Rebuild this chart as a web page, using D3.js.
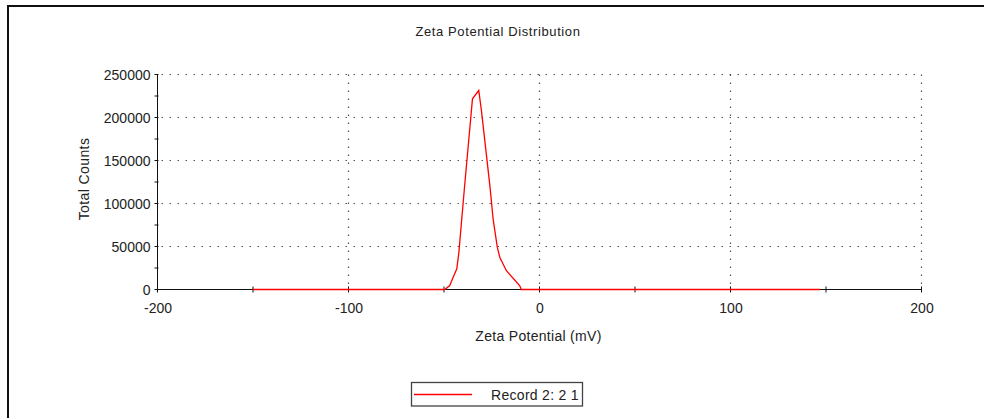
<!DOCTYPE html>
<html>
<head>
<meta charset="utf-8">
<script src="https://cdn.jsdelivr.net/npm/d3@7"></script>
<style>
  html, body { margin: 0; padding: 0; background: #fff; }
  svg { display: block; }
  text { font-family: "Liberation Sans", Arial, sans-serif; fill: #222; }
</style>
</head>
<body>
<svg id="chart" width="984" height="418"></svg>
<script>
// Zeta potential distribution record
const zeta = [-150, -49.6, -47, -45.2, -43.3, -42.2, -39.3, -35.1, -31.8, -30.4, -26, -24.3, -22.1, -20.8, -17.4, -10.4, -9.5, 147];
const counts = [0, 0, 4600, 14300, 24000, 43400, 118000, 221700, 231400, 208000, 121000, 82200, 49200, 37600, 22100, 4650, 0, 0];

const xTicks = [-200, -100, 0, 100, 200];
const xMinorTicks = [-150, -50, 50, 150];
const yTicks = [0, 50000, 100000, 150000, 200000, 250000];
const yMinorTicks = [25000, 75000, 125000, 175000, 225000];

const titleText = "Zeta Potential Distribution";
const xLabel = "Zeta Potential (mV)";
const yLabel = "Total Counts";
const seriesName = "Record 2: 2 1";

const svg = d3.select("#chart");

const x = d3.scaleLinear().domain([-200, 200]).range([157.5, 921.5]);
const y = d3.scaleLinear().domain([0, 250000]).range([289.5, 74.5]);

// outer frame (top and left edges)
svg.append("path")
  .attr("d", "M8,418 L8,6 L984,6")
  .attr("fill", "none")
  .attr("stroke", "#111")
  .attr("stroke-width", 2);

// title
svg.append("text")
  .attr("x", 498).attr("y", 36)
  .attr("text-anchor", "middle")
  .style("font-size", "13px")
  .style("letter-spacing", "0.6px")
  .text(titleText);

// dotted grid
const grid = svg.append("g")
  .attr("stroke", "#555")
  .attr("stroke-width", 1.2)
  .attr("stroke-dasharray", "1.5,6.5");
grid.selectAll("line.h").data(yTicks.filter(d => d > 0)).join("line")
  .attr("class", "h")
  .attr("x1", x(-200) + 4).attr("x2", x(200))
  .attr("y1", d => y(d)).attr("y2", d => y(d));
grid.selectAll("line.v").data(xTicks.filter(d => d > -200)).join("line")
  .attr("class", "v")
  .attr("x1", d => x(d)).attr("x2", d => x(d))
  .attr("y1", y(250000)).attr("y2", y(0) - 3);

// axes (plain hyphen for negative labels)
const plain = d => String(d);
const xAxis = d3.axisBottom(x).tickValues(xTicks).tickSize(0).tickPadding(14)
  .tickFormat(plain);
const gx = svg.append("g").attr("transform", `translate(0,${y(0)})`).call(xAxis);
gx.select(".domain").attr("stroke", "#111").attr("d", `M${x(-200)},0H${x(200)}`);
gx.selectAll(".tick text").style("font-size", "14px").attr("fill", "#222");

const yAxis = d3.axisLeft(y).tickValues(yTicks).tickSize(0).tickPadding(7)
  .tickFormat(plain);
const gy = svg.append("g").attr("transform", `translate(${x(-200)},0)`).call(yAxis);
gy.select(".domain").attr("stroke", "#111").attr("d", `M0,${y(0)}V${y(250000)}`);
gy.selectAll(".tick text").style("font-size", "14px").attr("fill", "#222").attr("dy", "0.36em");

// small tick marks crossing the axes
svg.append("g").attr("stroke", "#111")
  .selectAll("line").data(yTicks.concat(yMinorTicks)).join("line")
  .attr("x1", x(-200) - 3).attr("x2", x(-200) + 1)
  .attr("y1", d => y(d)).attr("y2", d => y(d));
svg.append("g").attr("stroke", "#111")
  .selectAll("line").data(xTicks.concat(xMinorTicks)).join("line")
  .attr("x1", d => x(d)).attr("x2", d => x(d))
  .attr("y1", y(0) - 3).attr("y2", y(0) + 3);

// axis titles
svg.append("text")
  .attr("x", 538.5).attr("y", 341)
  .attr("text-anchor", "middle")
  .style("font-size", "14px")
  .style("letter-spacing", "0.3px")
  .text(xLabel);
svg.append("text")
  .attr("transform", "translate(89,179) rotate(-90)")
  .attr("text-anchor", "middle")
  .style("font-size", "14px")
  .style("letter-spacing", "0.4px")
  .text(yLabel);

// distribution line
const line = d3.line().x(d => x(d[0])).y(d => y(d[1]));
svg.append("path")
  .datum(zeta.map((z, i) => [z, counts[i]]))
  .attr("d", line)
  .attr("fill", "none")
  .attr("stroke", "#ff0000")
  .attr("stroke-width", 1.3);

// legend
const lg = svg.append("g");
lg.append("rect")
  .attr("x", 411.5).attr("y", 382.5).attr("width", 171).attr("height", 23.5)
  .attr("fill", "#fff").attr("stroke", "#444").attr("stroke-width", 1.3);
lg.append("line")
  .attr("x1", 414).attr("x2", 472).attr("y1", 394.5).attr("y2", 394.5)
  .attr("stroke", "#ff0000").attr("stroke-width", 1.3);
lg.append("text")
  .attr("x", 491).attr("y", 400)
  .style("font-size", "14px")
  .style("letter-spacing", "0.3px")
  .text(seriesName);
</script>
</body>
</html>
